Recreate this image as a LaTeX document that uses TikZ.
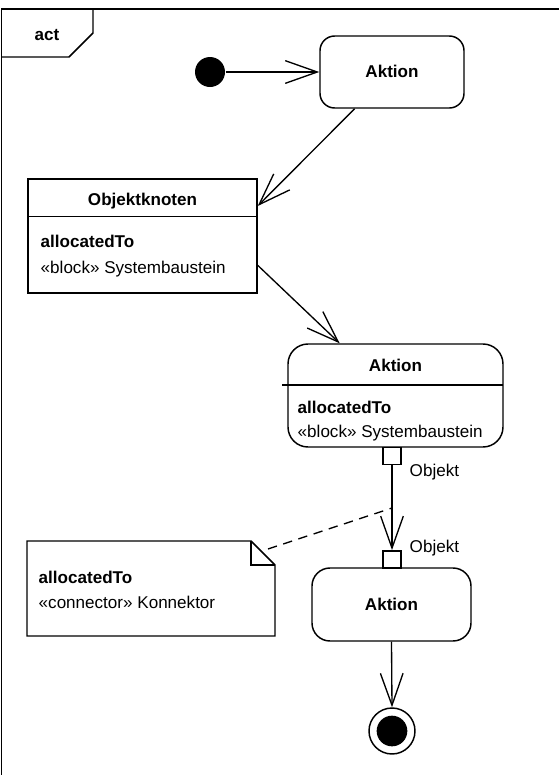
\documentclass[tikz,border=0pt]{standalone}
\usepackage{fontspec}
\setmainfont{Liberation Sans}
\usetikzlibrary{arrows.meta,calc,shapes.geometric}
\begin{document}
\begin{tikzpicture}[x=0.75pt,y=-0.75pt,
  line width=1.1pt,
  lbl/.style={inner sep=0pt,anchor=base west,font=\fontsize{12.8}{15}\selectfont},
  blbl/.style={lbl,font=\fontsize{12.8}{15}\selectfont\bfseries},
  ctr/.style={inner sep=0pt,anchor=base,font=\fontsize{12.8}{15}\selectfont\bfseries},
  flow/.style={draw,line width=1pt,-{Straight Barb[length=24pt,width=17pt,line width=1pt]}},
  actbox/.style={draw,rectangle,inner sep=0pt},
  pinbox/.style={draw,rectangle,inner sep=0pt,minimum width=13.5pt,minimum height=13pt,fill=white},
]
\useasboundingbox (0,0) rectangle (558,775);
% frame
\draw (1.3,9) -- (560,9);
\draw (1.3,9) -- (1.3,777);
\draw (1.3,9) -- (93,9) -- (93,33) -- (69,57) -- (1.3,57);
\node[ctr] (act) at (47,40) {act};

% initial node
\node[circle,fill=black,inner sep=0pt,minimum size=22.5pt] (init) at (210,72) {};

% Aktion 1
\node[actbox,rounded corners=11pt,minimum width=108pt,minimum height=54pt] (a1) at (392,72) {};
\node[ctr] (a1t) at (392,77) {Aktion};

% Objektknoten
\node[actbox,minimum width=171.75pt,minimum height=85.5pt] (ok) at (142.5,236) {};
\draw ($(ok.north west)!0.333!(ok.south west)$) coordinate (okd1) -- ($(ok.north east)!0.333!(ok.south east)$) coordinate (okd2);
\node[ctr] (okt) at (142.5,205) {Objektknoten};
\node[blbl] (okt2) at (40,247) {allocatedTo};
\node[lbl] (okt3) at (40,273) {«block» Systembaustein};

% Aktion 2
\node[actbox,rounded corners=15pt,minimum width=161.25pt,minimum height=77.25pt] (a2) at (395.5,395.5) {};
\coordinate (a2dl) at (282,385);
\coordinate (a2dr) at (503,385);
\draw (a2dl) -- (a2dr);
\node[ctr] (a2t) at (395.5,371) {Aktion};
\node[blbl] (a2t2) at (297,413) {allocatedTo};
\node[lbl] (a2t3) at (297,437) {«block» Systembaustein};

% pins
\node[pinbox] (p1) at (392,456) {};
\node[lbl] (p1l) at (409,476) {Objekt};

% Aktion 3
\node[actbox,rounded corners=13.5pt,minimum width=119.25pt,minimum height=54.75pt] (a3) at (391.5,604.5) {};
\node[ctr] (a3t) at (391.5,610) {Aktion};
\node[pinbox] (p2) at (392,559.5) {};
\node[lbl] (p2l) at (409,552) {Objekt};

% final node
\node[circle,draw,line width=1.1pt,inner sep=0pt,minimum size=34.5pt] (fin) at (392,731) {};
\node[circle,fill=black,inner sep=0pt,minimum size=23pt] (fin2) at (392,731) {};

% note
\coordinate (n1) at (27,541);
\coordinate (n2) at (251,541);
\coordinate (n3) at (275,565);
\coordinate (n4) at (275,636);
\coordinate (n5) at (27,636);
\draw (n1) -- (n2) -- (n3) -- (n4) -- (n5) -- cycle;
\draw (n2) -- (251,565) -- (n3);
\node[blbl] (nt1) at (38,583) {allocatedTo};
\node[lbl] (nt2) at (38,608) {«connector» Konnektor};
\coordinate (nc) at (268,549);

% flows
\draw[flow] (init) -- (a1.west);
\draw[flow] ($(a1.south west)!0.243!(a1.south east)$) -- ($(ok.north east)!0.24!(ok.south east)$);
\draw[flow] ($(ok.north east)!0.754!(ok.south east)$) -- ($(a2.north west)!0.242!(a2.north east)$);
\draw[flow] (p1.south) -- (p2.north);
\draw[flow] (a3.south) -- (fin.north);
\coordinate (dc) at (392,508);
\draw[line width=1pt,dash pattern=on 7pt off 5pt] (nc) -- (dc);
\end{tikzpicture}
\end{document}
